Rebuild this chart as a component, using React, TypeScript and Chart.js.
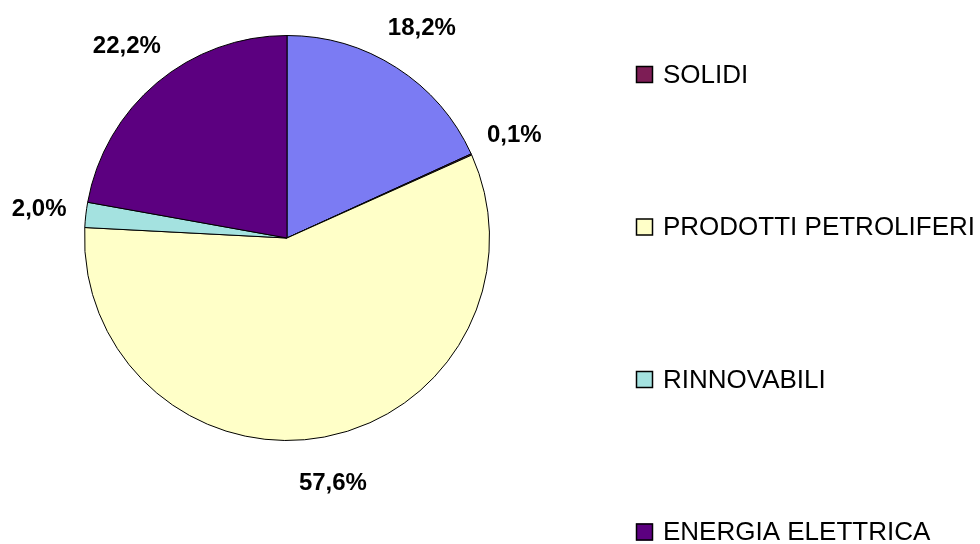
import React, { useEffect, useRef } from "react";
import { Chart, registerables } from "chart.js";

Chart.register(...registerables);

const categories = ["GAS NATURALE", "SOLIDI", "PRODOTTI PETROLIFERI", "RINNOVABILI", "ENERGIA ELETTRICA"];
const shares = [18.2, 0.1, 57.6, 2.0, 22.2];
const sliceColors = ["#7b7bf3", "#7d1d55", "#ffffc8", "#a4e2e0", "#5c0080"];

const pctLabel = (v: number) => v.toFixed(1).replace(".", ",") + "%";

const labelPlugin = {
  id: "outerLabels",
  afterDatasetsDraw(chart: any) {
    const ctx = chart.ctx;
    const meta = chart.getDatasetMeta(0);
    const data = chart.data.datasets[0].data as number[];
    ctx.save();
    ctx.font = "bold 24px 'Liberation Sans', Arial, sans-serif";
    ctx.fillStyle = "#000";
    ctx.textAlign = "center";
    ctx.textBaseline = "middle";
    meta.data.forEach((arc: any, i: number) => {
      const p = arc.getProps(["x", "y", "startAngle", "endAngle", "outerRadius"], true);
      const mid = (p.startAngle + p.endAngle) / 2;
      const d = p.outerRadius + 47;
      ctx.fillText(pctLabel(data[i]), p.x + Math.cos(mid) * d, p.y + Math.sin(mid) * d);
    });
    ctx.restore();
  },
};

const legendPlugin = {
  id: "sideLegend",
  afterDraw(chart: any) {
    const ctx = chart.ctx;
    const labels = chart.data.labels as string[];
    const colors = chart.data.datasets[0].backgroundColor as string[];
    const x0 = 636;
    const firstY = -78;
    const gap = 152.5;
    const box = 17;
    ctx.save();
    ctx.font = "26px 'Liberation Sans', Arial, sans-serif";
    ctx.textBaseline = "middle";
    ctx.textAlign = "left";
    labels.forEach((lab, i) => {
      const cy = firstY + i * gap;
      if (cy < 0) return;
      ctx.fillStyle = colors[i];
      ctx.fillRect(x0, cy - box / 2, box, box);
      ctx.strokeStyle = "#000";
      ctx.lineWidth = 1.5;
      ctx.strokeRect(x0 + 0.5, cy - box / 2 + 0.5, box - 1, box - 1);
      ctx.fillStyle = "#000";
      ctx.fillText(lab, x0 + 27, cy + 1);
    });
    ctx.restore();
  },
};

export default function App() {
  const ref = useRef<HTMLCanvasElement | null>(null);
  useEffect(() => {
    if (!ref.current) return;
    const chart = new Chart(ref.current, {
      type: "pie",
      data: {
        labels: categories,
        datasets: [
          {
            data: shares,
            backgroundColor: sliceColors,
            borderColor: "#000",
            borderWidth: 1,
          },
        ],
      },
      options: {
        animation: false,
        responsive: true,
        maintainAspectRatio: false,
        layout: { padding: { left: 84, right: 490, top: 35, bottom: 103 } },
        plugins: {
          legend: { display: false },
          tooltip: { enabled: false },
        },
      },
      plugins: [labelPlugin, legendPlugin],
    });
    return () => chart.destroy();
  }, []);
  return (
    <div style={{ position: "fixed", left: 0, top: 0, width: 980, height: 544, background: "#fff" }}>
      <canvas ref={ref} />
    </div>
  );
}
